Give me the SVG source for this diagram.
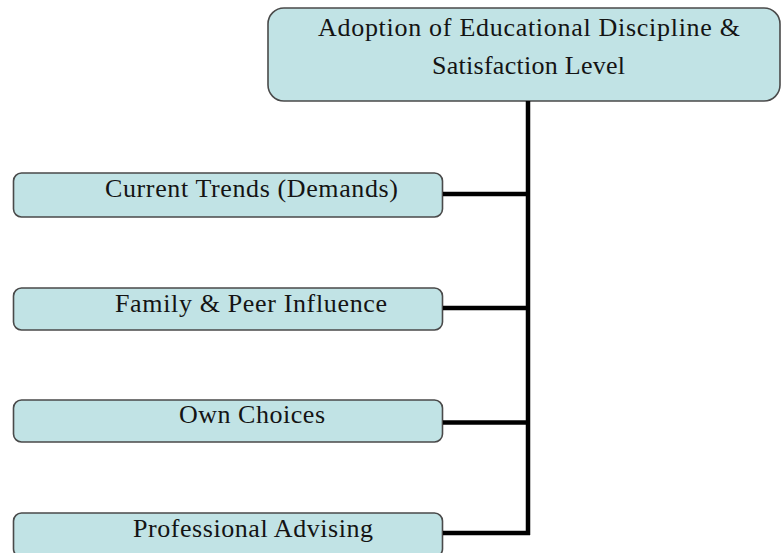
<svg xmlns="http://www.w3.org/2000/svg" width="782" height="553" viewBox="0 0 782 553">
<style>
.box{fill:#c1e3e5;stroke:#4a4a4a;stroke-width:1.6}
.t{font-family:"Liberation Serif","Times New Roman",serif;font-size:26px;fill:#141414;text-anchor:middle}
.c{stroke:#000;stroke-width:4.5;fill:none}
</style>
<rect width="782" height="553" fill="#fff"/>
<g id="root">
<rect class="box" x="268" y="8" width="512" height="93" rx="16"/>
<text class="t" x="529" y="36" textLength="422" lengthAdjust="spacing">Adoption of Educational Discipline  &amp;</text>
<text class="t" x="528.5" y="74" textLength="193" lengthAdjust="spacing">Satisfaction Level</text>
</g>
<g id="n1">
<rect class="box" x="13.5" y="173" width="429" height="44" rx="8"/>
<text class="t" x="251.5" y="197" textLength="293" lengthAdjust="spacing">Current Trends (Demands)</text>
</g>
<g id="n2">
<rect class="box" x="13.5" y="288" width="429" height="42" rx="8"/>
<text class="t" x="251" y="311.5" textLength="272" lengthAdjust="spacing">Family &amp; Peer Influence</text>
</g>
<g id="n3">
<rect class="box" x="13.5" y="400" width="429" height="42" rx="8"/>
<text class="t" x="252" y="423" textLength="146" lengthAdjust="spacing">Own Choices</text>
</g>
<g id="n4">
<rect class="box" x="13.5" y="513" width="429" height="44" rx="8"/>
<text class="t" x="253" y="537" textLength="240" lengthAdjust="spacing">Professional Advising</text>
</g>
<g id="connectors">
<path class="c" d="M528 101 V535"/>
<path class="c" d="M443 194 H528"/>
<path class="c" d="M443 308 H528"/>
<path class="c" d="M443 422.5 H528"/>
<path class="c" d="M443 533 H530"/>
</g>
</svg>
